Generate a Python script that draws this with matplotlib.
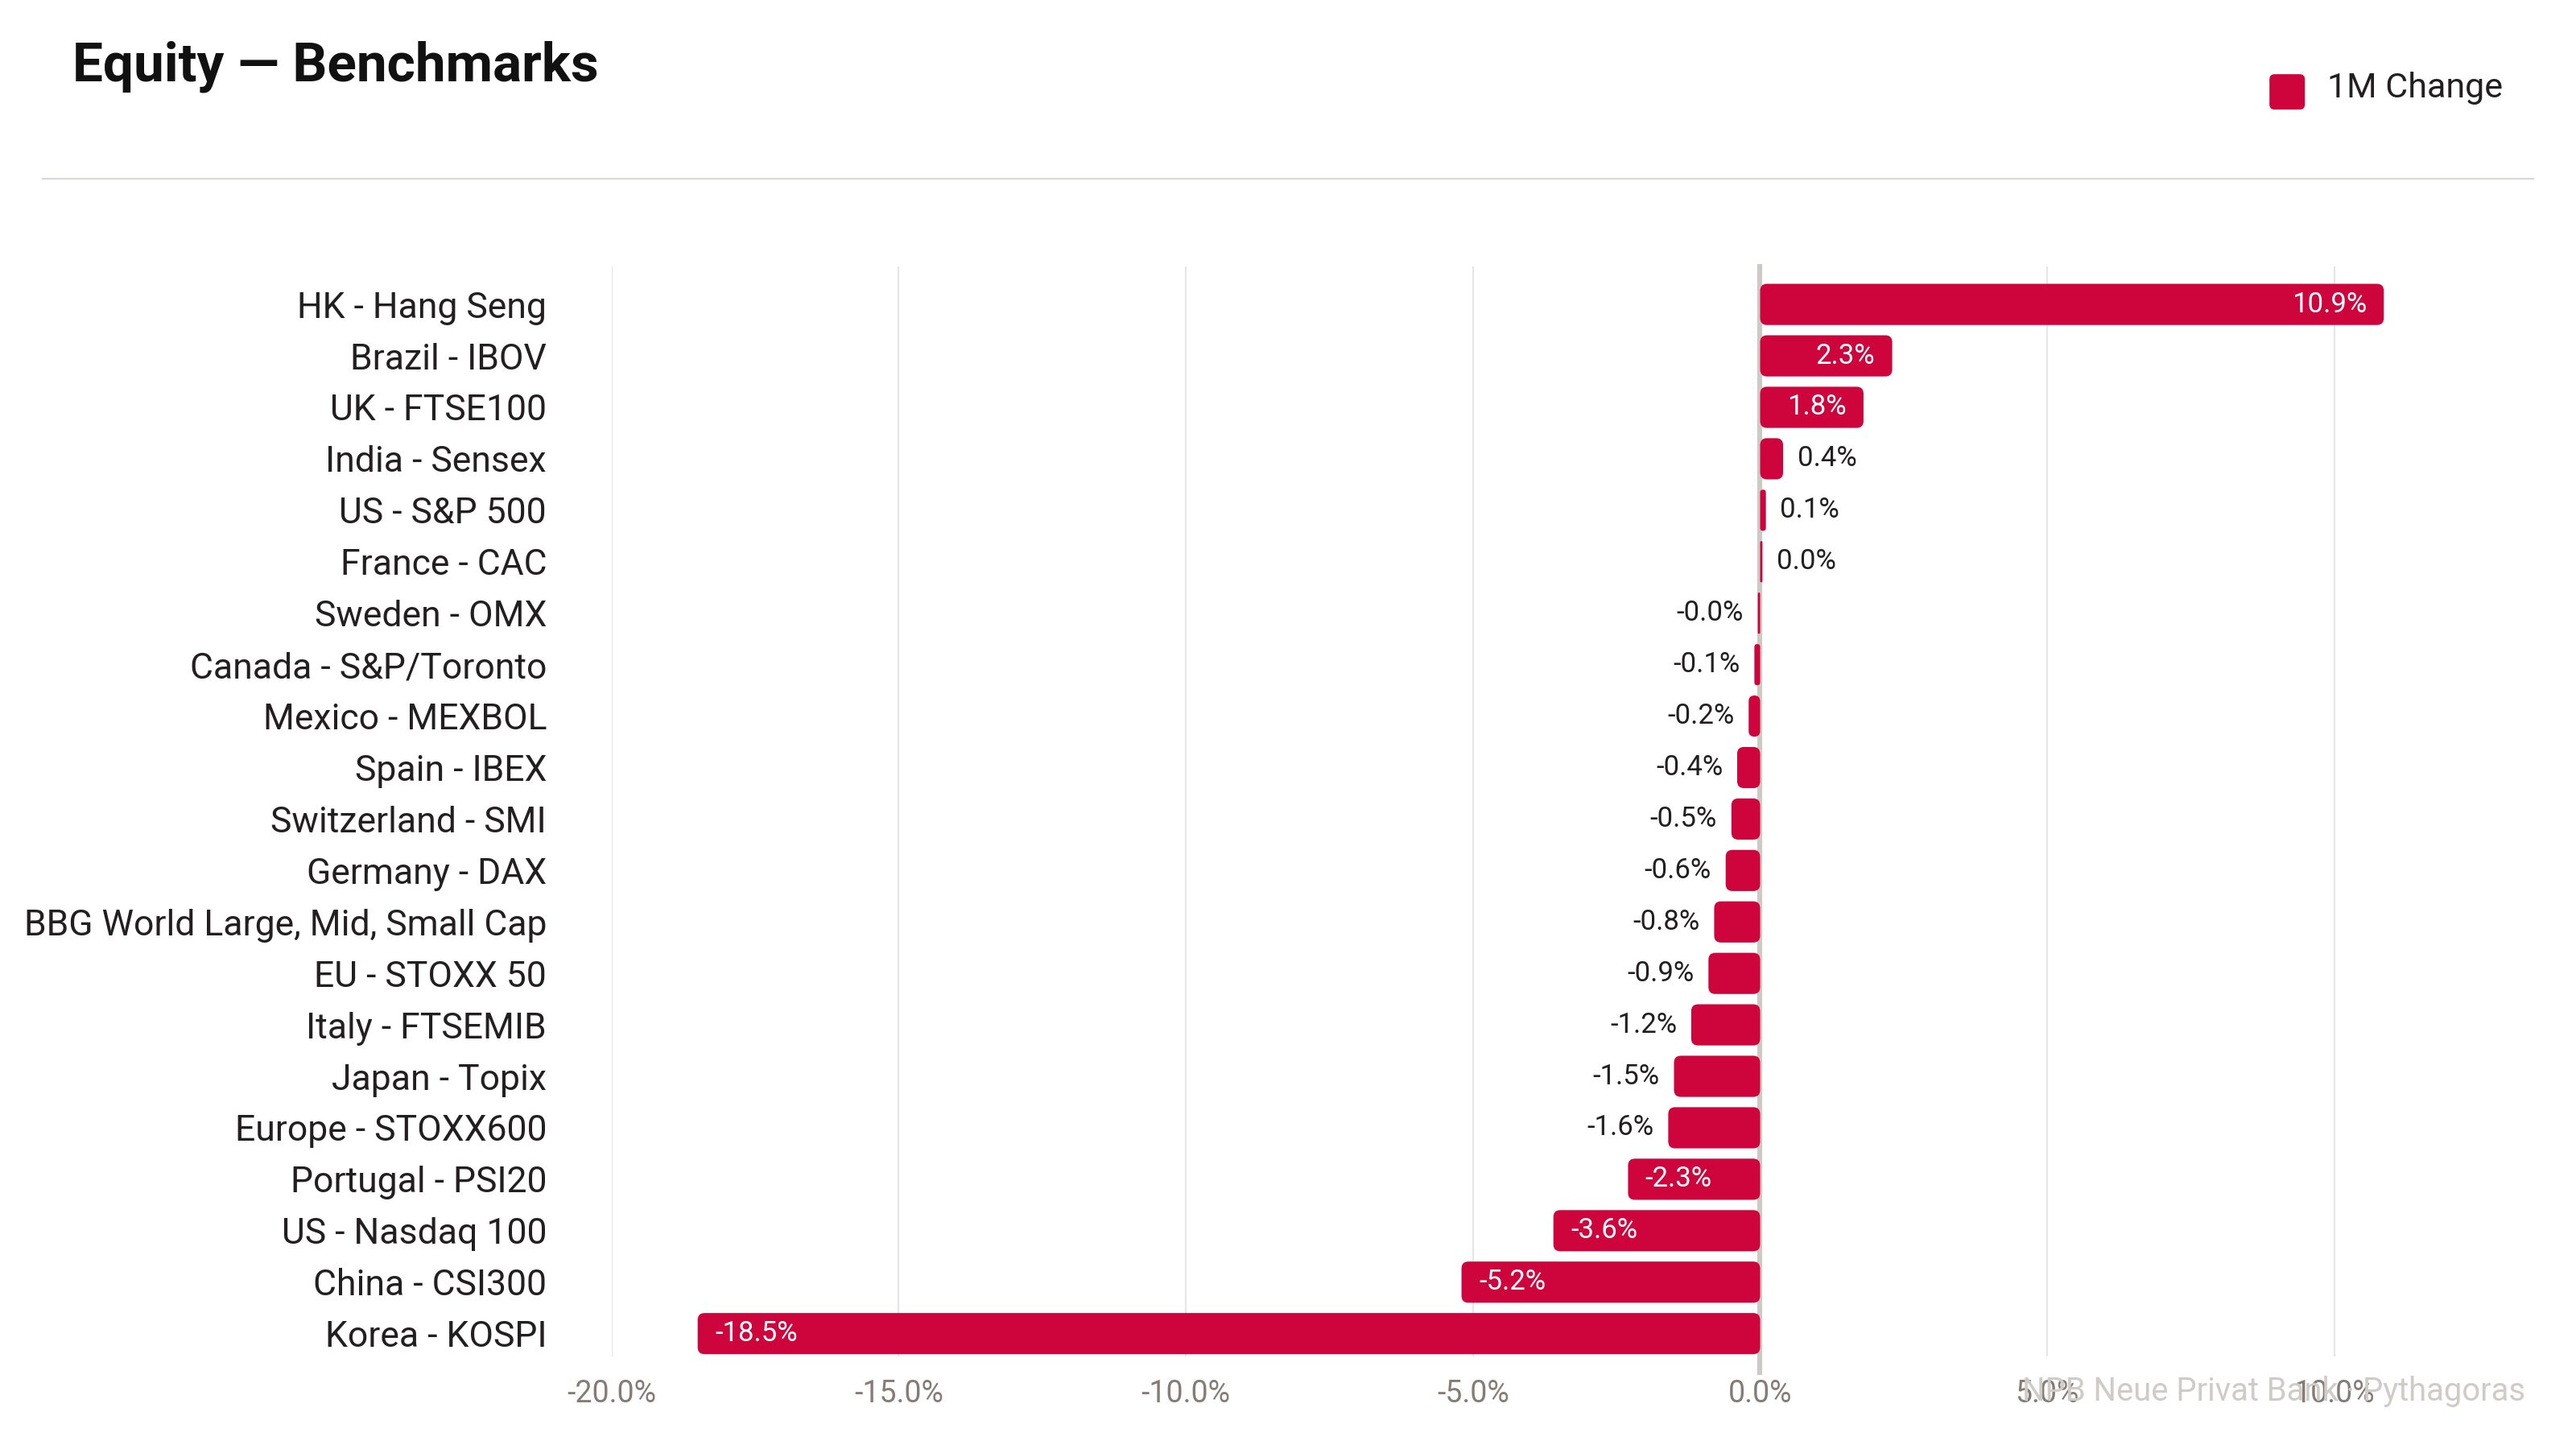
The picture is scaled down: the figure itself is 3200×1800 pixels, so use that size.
import matplotlib
matplotlib.use("Agg")
import matplotlib.pyplot as plt
from matplotlib.patches import FancyBboxPatch
from matplotlib.ticker import FuncFormatter
import numpy as np

# --- Data ---
CATEGORIES = [
    "HK - Hang Seng", "Brazil - IBOV", "UK - FTSE100", "India - Sensex",
    "US - S&P 500", "France - CAC", "Sweden - OMX", "Canada - S&P/Toronto",
    "Mexico - MEXBOL", "Spain - IBEX", "Switzerland - SMI", "Germany - DAX",
    "BBG World Large, Mid, Small Cap", "EU - STOXX 50", "Italy - FTSEMIB",
    "Japan - Topix", "Europe - STOXX600", "Portugal - PSI20",
    "US - Nasdaq 100", "China - CSI300", "Korea - KOSPI",
]
CHANGE_1M = [10.86, 2.3, 1.8, 0.4, 0.1, 0.04, -0.04, -0.1, -0.2, -0.4, -0.5,
             -0.6, -0.8, -0.9, -1.2, -1.5, -1.6, -2.3, -3.6, -5.2, -18.5]
X_TICKS = [-20, -15, -10, -5, 0, 5, 10]

# --- Style ---
RED = "#CE043C"
DARK = "#231F20"
TICK_GREY = "#867C75"
GRID_GREY = "#E8E6E4"
ZERO_GREY = "#CDC9C4"
FONT = ["Liberation Sans Narrow", "Roboto", "DejaVu Sans"]
plt.rcParams["font.family"] = FONT

fig = plt.figure(figsize=(16, 9), dpi=200)
ax = fig.add_axes([0.2374, 0.064, 0.929 - 0.239, 0.8162 - 0.064])

y = np.arange(len(CATEGORIES))
bars = ax.barh(y, CHANGE_1M, height=0.8, color=RED, zorder=3)

# swap plain rectangles for slightly rounded ones
for rect in bars.patches:
    x0, y0 = rect.get_x(), rect.get_y()
    w, h = rect.get_width(), rect.get_height()
    if w < 0:
        x0, w = x0 + w, -w
    r = min(0.12, w / 2)
    fb = FancyBboxPatch((x0, y0), w, h,
                        boxstyle=f"round,pad=0,rounding_size={r}",
                        mutation_aspect=1.11, facecolor=RED,
                        edgecolor="none", zorder=3)
    ax.add_patch(fb)
    rect.set_visible(False)

# value labels: inside (white) for long bars, outside (dark) for short ones
for yi, v in zip(y, CHANGE_1M):
    txt = f"{v:.1f}%"
    if abs(v) >= 1.7:
        if v > 0:
            ax.text(v - 0.3, yi, txt, ha="right", va="center", color="white",
                    fontsize=12.5, zorder=4)
        else:
            ax.text(v + 0.3, yi, txt, ha="left", va="center", color="white",
                    fontsize=12.5, zorder=4)
    else:
        if v >= 0:
            ax.text(v + 0.25, yi, txt, ha="left", va="center", color=DARK,
                    fontsize=12.5, zorder=4)
        else:
            ax.text(v - 0.25, yi, txt, ha="right", va="center", color=DARK,
                    fontsize=12.5, zorder=4)

ax.set_xlim(-20, 10.95)
ax.set_ylim(len(CATEGORIES) - 1 + 0.44, -0.74)
ax.set_yticks(y)
ax.set_yticklabels(CATEGORIES, fontsize=16, color=DARK)
ax.set_xticks(X_TICKS)
ax.xaxis.set_major_formatter(FuncFormatter(lambda v, p: f"{v:.1f}%"))
ax.tick_params(axis="x", labelsize=13.5, labelcolor=TICK_GREY, length=0, pad=10)
ax.tick_params(axis="y", length=0, pad=29)

ax.grid(axis="x", color=GRID_GREY, linewidth=0.8, zorder=0)
ax.set_axisbelow(True)
for s in ax.spines.values():
    s.set_visible(False)
ax.axvline(0, ymin=-0.015, ymax=1, color=ZERO_GREY, linewidth=2.2,
           zorder=2, clip_on=False)

# --- Header ---
fig.text(0.0282, 0.944, "Equity \u2014 Benchmarks", fontsize=24.3,
         fontweight="bold", color="#111111", ha="left", va="baseline")
fig.add_artist(plt.Line2D([0.0166, 0.9834], [0.8764, 0.8764],
                          transform=fig.transFigure, color="#DCD8D4",
                          linewidth=0.8))

# legend
fig.add_artist(FancyBboxPatch((0.881, 0.9244), 0.01375, 0.0244,
                              boxstyle="round,pad=0,rounding_size=0.002",
                              mutation_aspect=16 / 9, transform=fig.transFigure,
                              facecolor=RED, edgecolor="none"))
fig.text(0.9035, 0.939, "1M Change", fontsize=15.5, color=DARK,
         ha="left", va="center")

# watermark
fig.text(0.9805, 0.0395, "NPB Neue Privat Bank \u00b7 Pythagoras", fontsize=14.4,
         color="#CFCBC7", ha="right", va="center", zorder=0)

fig.savefig("out.png", dpi=200, facecolor="white")
